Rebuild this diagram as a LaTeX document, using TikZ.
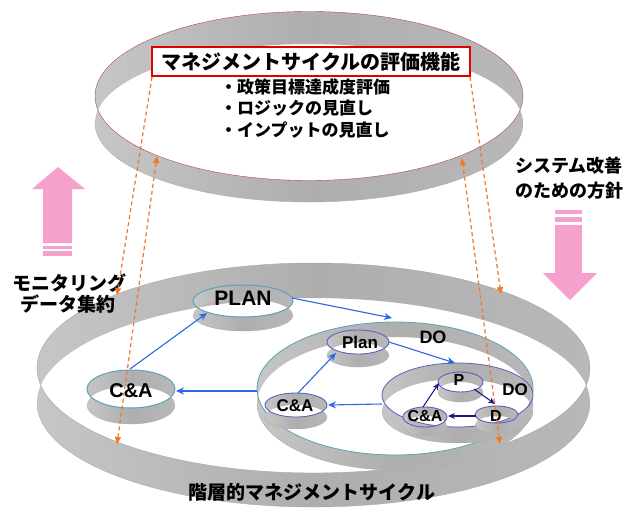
\documentclass[tikz,border=0pt]{standalone}
\usepackage{fontspec}
\setmainfont{Liberation Sans}
\newfontfamily\jp{Noto Sans CJK JP}
\usetikzlibrary{arrows.meta}
\definecolor{bandL}{RGB}{198,198,198}
\definecolor{bandM}{RGB}{174,174,174}
\definecolor{bandR}{RGB}{184,184,184}
\definecolor{tealrim}{RGB}{90,165,180}
\definecolor{bluerim}{RGB}{95,95,190}
\definecolor{arrblue}{RGB}{45,105,225}
\definecolor{arrnavy}{RGB}{25,25,130}
\definecolor{dashor}{RGB}{240,120,40}
\definecolor{pinkarr}{RGB}{246,160,206}
\definecolor{boxred}{RGB}{225,0,0}
\newcommand\bandring[7]{%
  \path[even odd rule, left color=bandL, right color=bandR, middle color=bandM]
    (#1,#2) ellipse[x radius=#3pt, y radius=#4pt]
    (#1,#2+#6) ellipse[x radius=#3pt, y radius=#5pt];
  \draw[gray!65, line width=0.4pt] (#1-#3,#2+#6) arc[start angle=180, end angle=360, x radius=#3pt, y radius=#5pt];
  \draw[#7] (#1,#2) ellipse[x radius=#3pt, y radius=#4pt];
}
\tikzset{
  jpt/.style={font=\jp\bfseries\fontsize{#1}{#1}\selectfont, inner sep=0pt},
  lat/.style={font=\bfseries\fontsize{#1}{#1}\selectfont, inner sep=0pt},
  bluearr/.style={draw=arrblue, line width=1.1pt, -{Stealth[length=8pt,width=7pt]}},
  navyarr/.style={draw=arrnavy, line width=1.1pt, -{Stealth[length=7pt,width=6pt]}},
  odash/.style={draw=dashor, line width=1.2pt, dash pattern=on 4pt off 3pt},
  otip/.style={-{Triangle[length=7pt,width=6pt]}},
  otips/.style={{Triangle[length=7pt,width=6pt]}-{Triangle[length=7pt,width=6pt]}},
}
\begin{document}
\begin{tikzpicture}[x=1pt, y=-1pt]
\useasboundingbox (0,0) rectangle (625,509);
\fill[white] (0,0) rectangle (625,509);

% top ring
\bandring{309}{96}{214}{84.5}{79}{27}{draw=red!40!gray, line width=0.4pt}
% big ring
\bandring{313.5}{368}{276.5}{105}{104.5}{34.5}{draw=gray!70, line width=0.4pt}
% middle ring (DO level 2)
\bandring{395}{388.5}{138}{66.5}{66.5}{15}{draw=tealrim, line width=0.8pt}
% small ring (DO level 3)
\bandring{457.5}{395}{75.5}{32}{32}{16}{draw=bluerim, line width=0.8pt}

% node rings
\bandring{243}{301}{50}{16}{16}{14}{draw=tealrim, line width=1pt}
\bandring{131}{389}{44}{19}{19}{16}{draw=tealrim, line width=1pt}
\bandring{358}{342}{31}{12}{12}{13}{draw=bluerim, line width=0.9pt}
\bandring{296}{405}{31}{12}{12}{12}{draw=bluerim, line width=0.9pt}
\bandring{460.5}{382}{22.5}{10}{10}{10}{draw=bluerim, line width=0.9pt}
\bandring{496.5}{414.5}{21.5}{8.5}{8.5}{10}{draw=bluerim, line width=0.9pt}
\bandring{425}{417}{22}{10}{10}{9}{draw=bluerim, line width=0.9pt}

% pink arrows
\fill[pinkarr] (58,167) -- (85,189) -- (72,189) -- (72,243) -- (43,243) -- (43,189) -- (32,189) -- cycle;
\fill[pinkarr] (43,245.5) rectangle (72,248.5);
\fill[pinkarr] (43,251) rectangle (72,256);
\fill[pinkarr] (555,210) rectangle (582,214);
\fill[pinkarr] (555,217) rectangle (582,222);
\fill[pinkarr] (570,300) -- (597,273) -- (582,273) -- (582,225) -- (555,225) -- (555,273) -- (543,273) -- cycle;

% texts
\node[jpt=20, draw=boxred, line width=2.5pt, fill=white, minimum width=318pt, minimum height=29pt] (title) at (311,61.5) {マネジメントサイクルの評価機能};
\node[jpt=17, anchor=west] (b1) at (220,87) {・政策目標達成度評価};
\node[jpt=17, anchor=west] (b2) at (220,108.5) {・ロジックの見直し};
\node[jpt=17, anchor=west] (b3) at (220,130) {・インプットの見直し};
\node[jpt=18, anchor=west] (sys1) at (515,166) {システム改善};
\node[jpt=18, anchor=west] (sys2) at (515,191) {のための方針};
\node[jpt=19, anchor=west] (mon1) at (12,283) {モニタリング};
\node[jpt=19, anchor=west] (mon2) at (20,304) {データ集約};
\node[jpt=19] (hier) at (312,492) {階層的マネジメントサイクル};

\node[lat=21] (PLAN) at (243,298) {PLAN};
\node[lat=20] (CA1) at (131,391) {C\&A};
\node[lat=17] (Plan) at (360,342) {Plan};
\node[lat=17] (CA2) at (295,406) {C\&A};
\node[lat=18] (DO2) at (433,337) {DO};
\node[lat=16] (P) at (459,380) {P};
\node[lat=16] (D) at (496,416) {D};
\node[lat=16] (CA3) at (425,416) {C\&A};
\node[lat=17] (DO3) at (515,390) {DO};

% connector anchors
\coordinate (planR) at (292,298);
\coordinate (midTop) at (392,318);
\coordinate (ca1Top) at (130,369);
\coordinate (planBL) at (207,313);
\coordinate (midL) at (257,391);
\coordinate (ca1R) at (176,391);
\coordinate (ca2Top) at (298,393);
\coordinate (plan2BL) at (336,353);
\coordinate (plan2R) at (389,342);
\coordinate (smallTop) at (455,363);
\coordinate (smallL) at (382,404);
\coordinate (ca2R) at (328,405);
\coordinate (ca3Top) at (423,407);
\coordinate (pBL) at (439,383);
\coordinate (pR) at (474,389);
\coordinate (dTop) at (495,404);
\coordinate (dL) at (476,416);
\coordinate (ca3R) at (448,416);

\draw[bluearr] (planR) -- (midTop);
\draw[bluearr] (ca1Top) -- (planBL);
\draw[bluearr] (midL) -- (ca1R);
\draw[bluearr] (ca2Top) -- (plan2BL);
\draw[bluearr] (plan2R) -- (smallTop);
\draw[bluearr] (smallL) -- (ca2R);
\draw[navyarr] (ca3Top) -- (pBL);
\draw[navyarr] (pR) -- (dTop);
\draw[navyarr] (dL) -- (ca3R);

% orange dashed arrows
\coordinate (la1) at (152,77);
\coordinate (la2) at (117,295);
\coordinate (lb1) at (157,156);
\coordinate (lb2) at (117,444);
\coordinate (ra1) at (470,77);
\coordinate (ra2) at (501,294);
\coordinate (rb1) at (462,158);
\coordinate (rb2) at (500,444);
\draw[odash, otip] (la1) -- (la2);
\draw[odash, otips] (lb2) -- (lb1);
\draw[odash, otip] (ra1) -- (ra2);
\draw[odash, otips] (rb2) -- (rb1);
\end{tikzpicture}
\end{document}
